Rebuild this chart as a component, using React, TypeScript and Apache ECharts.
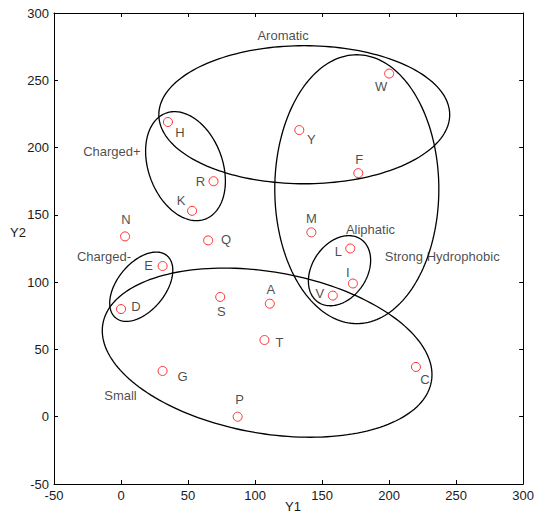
import React, { useEffect, useRef } from "react";
import * as echarts from "echarts";

// Amino acid points
const letters = ["A", "C", "D", "E", "F", "G", "H", "I", "K", "L", "M", "N", "P", "Q", "R", "S", "T", "V", "W", "Y"];
const y1Values = [111, 220, 0, 31, 177, 31, 35, 173, 53, 171, 142, 3, 87, 65, 69, 74, 107, 158, 200, 133];
const y2Values = [84, 37, 80, 112, 181, 34, 219, 99, 153, 125, 137, 134, 0, 131, 175, 89, 57, 90, 255, 213];

// Group ellipses: center, radii (data units), rotation (degrees)
const groupNames = ["Aromatic", "Strong Hydrophobic", "Charged+", "Charged-", "Aliphatic", "Small"];
const ellipseCx = [136.7, 175.9, 48.1, 15.1, 163, 109];
const ellipseCy = [224.4, 169.1, 186.2, 96.6, 108.5, 47.6];
const ellipseRx = [108.5, 61.2, 42, 30, 28.3, 124.4];
const ellipseRy = [51.3, 99.9, 27.6, 17.8, 20.4, 60];
const ellipseAngle = [0, 0, -69.4, 50.4, 55.6, -9.9];

// Group label anchors (data units)
const groupLabelX = [120.9, 239.6, -6.8, -12.7, 186.1, -0.4];
const groupLabelY = [283.1, 119.1, 197.2, 119.1, 139, 15.8];

// Axis ticks
const axisMin = -50;
const axisMax = 300;
const axisStep = 50;

// Label offsets (pixels) for the point letters — styling only
const labelOffsets: Record<string, [number, number]> = {
  A: [1, -14], C: [9, 13], D: [15, -3], E: [-14, 0], F: [1, -14], G: [20, 6],
  H: [12, 10], I: [-5, -11], K: [-11, -10], L: [-12, 3], M: [0, -14], N: [1, -17],
  P: [2, -17], Q: [18, -1], R: [-13, 0], S: [1, 15], T: [15, 2], V: [-13, -2],
  W: [-8, 13], Y: [12, 9],
};

const FONT = "'Liberation Sans', Arial, sans-serif";
const TEXT = "#1a1a1a";

export default function App() {
  const ref = useRef<HTMLDivElement>(null);
  useEffect(() => {
    if (!ref.current) return;
    const chart = echarts.init(ref.current, undefined, { renderer: "svg" });

    const axisCommon = {
      type: "value" as const,
      min: axisMin,
      max: axisMax,
      interval: axisStep,
      axisLine: { show: true, onZero: false, lineStyle: { color: "#000", width: 1 } },
      axisTick: { show: true, inside: true, length: 4, lineStyle: { color: "#000" } },
      splitLine: { show: false },
    };

    const pointData = letters.map((l, i) => ({
      name: l,
      value: [y1Values[i], y2Values[i]],
      label: { offset: labelOffsets[l] || [0, 0] },
    }));

    const ellipseData = groupNames.map((n, i) => ({
      name: n,
      value: [ellipseCx[i], ellipseCy[i], ellipseRx[i], ellipseRy[i], ellipseAngle[i]],
    }));

    const groupLabelData = groupNames.map((n, i) => ({
      name: n,
      value: [groupLabelX[i], groupLabelY[i]],
    }));

    chart.setOption({
      animation: false,
      backgroundColor: "#fff",
      grid: { left: 54, right: 12, top: 13, bottom: 30, containLabel: false },
      xAxis: [
        {
          ...axisCommon,
          position: "bottom",
          axisLabel: { color: TEXT, fontSize: 13, fontFamily: FONT, margin: 5 },
        },
        {
          ...axisCommon,
          position: "top",
          axisLabel: { show: false },
        },
      ],
      yAxis: [
        {
          ...axisCommon,
          position: "left",
          axisLabel: { color: TEXT, fontSize: 13, fontFamily: FONT, margin: 5 },
        },
        {
          ...axisCommon,
          position: "right",
          axisLabel: { show: false },
        },
      ],
      graphic: [
        {
          type: "text",
          left: 10,
          top: 226,
          style: { text: "Y2", fill: TEXT, font: `13px ${FONT}` },
        },
        {
          type: "text",
          left: 285,
          top: 500,
          style: { text: "Y1", fill: TEXT, font: `13px ${FONT}` },
        },
      ],
      series: [
        {
          type: "custom",
          xAxisIndex: 0,
          yAxisIndex: 0,
          silent: true,
          encode: { x: 0, y: 1 },
          data: ellipseData,
          renderItem: (params: any, api: any) => {
            const cx = api.value(0);
            const cy = api.value(1);
            const rx = api.value(2);
            const ry = api.value(3);
            const th = (api.value(4) * Math.PI) / 180;
            const pts: number[][] = [];
            const n = 180;
            for (let k = 0; k <= n; k++) {
              const t = (k / n) * Math.PI * 2;
              const ex = rx * Math.cos(t);
              const ey = ry * Math.sin(t);
              pts.push(
                api.coord([
                  cx + ex * Math.cos(th) - ey * Math.sin(th),
                  cy + ex * Math.sin(th) + ey * Math.cos(th),
                ])
              );
            }
            return {
              type: "polyline",
              shape: { points: pts },
              style: { fill: "none", stroke: "#000", lineWidth: 1.3 },
            };
          },
        },
        {
          type: "scatter",
          xAxisIndex: 0,
          yAxisIndex: 0,
          symbol: "circle",
          symbolSize: 9,
          itemStyle: { color: "#fff", borderColor: "#ff0000", borderWidth: 1 },
          label: {
            show: true,
            position: "inside",
            formatter: "{b}",
            color: TEXT,
            fontSize: 13,
            fontFamily: FONT,
          },
          data: pointData,
        },
        {
          type: "scatter",
          xAxisIndex: 0,
          yAxisIndex: 0,
          symbolSize: 0,
          silent: true,
          label: {
            show: true,
            position: "inside",
            formatter: "{b}",
            color: TEXT,
            fontSize: 13,
            fontFamily: FONT,
          },
          data: groupLabelData,
        },
      ],
    });
    return () => chart.dispose();
  }, []);
  return (
    <div
      ref={ref}
      style={{ position: "fixed", left: 0, top: 0, width: 537, height: 514, background: "#fff" }}
    />
  );
}
